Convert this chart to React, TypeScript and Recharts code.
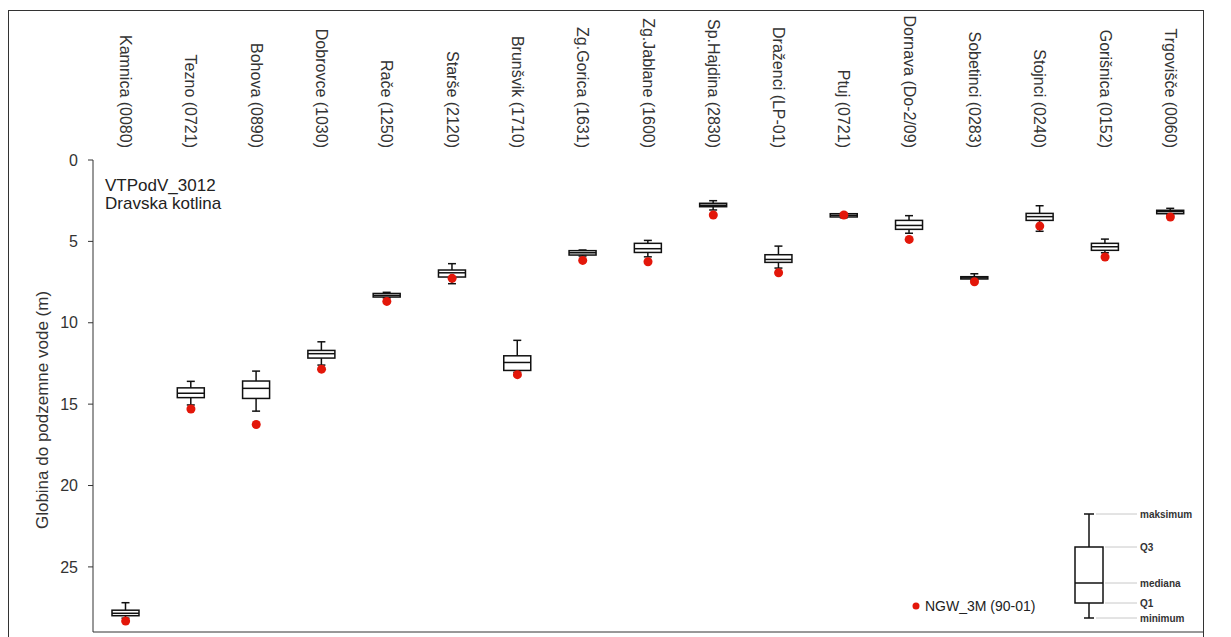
import React from 'react';
import { ComposedChart, Bar, Scatter, XAxis, YAxis, ReferenceLine, Legend, Label } from 'recharts';

const stations = [
  'Kamnica (0080)', 'Tezno (0721)', 'Bohova (0890)', 'Dobrovce (1030)', 'Rače (1250)',
  'Starše (2120)', 'Brunšvik (1710)', 'Zg.Gorica (1631)', 'Zg.Jablane (1600)', 'Sp.Hajdina (2830)',
  'Draženci (LP-01)', 'Ptuj (0721)', 'Dornava (Do-2/09)', 'Sobetinci (0283)', 'Stojnci (0240)',
  'Gorišnica (0152)', 'Trgovišče (0060)',
];

// depth values (m); lo = shallowest (drawn on top), hi = deepest
const loVals = [27.2, 13.6, 12.97, 11.17, 8.13, 6.37, 11.08, 5.53, 4.94, 2.5, 5.29, 3.28, 3.42, 6.99, 2.81, 4.86, 2.97];
const q1Vals = [27.66, 14.0, 13.58, 11.7, 8.2, 6.76, 12.03, 5.57, 5.12, 2.66, 5.82, 3.3, 3.71, 7.17, 3.28, 5.12, 3.09];
const medVals = [27.85, 14.33, 14.03, 11.9, 8.32, 6.93, 12.44, 5.7, 5.45, 2.78, 6.11, 3.4, 4.02, 7.24, 3.48, 5.33, 3.17];
const q3Vals = [28.0, 14.6, 14.65, 12.17, 8.42, 7.19, 12.93, 5.84, 5.68, 2.87, 6.29, 3.5, 4.26, 7.31, 3.71, 5.55, 3.3];
const hiVals = [28.15, 15.05, 15.43, 12.6, 8.47, 7.6, 13.05, 5.9, 5.95, 3.07, 6.64, 3.55, 4.5, 7.38, 4.38, 5.7, 3.38];
const ngwVals = [28.33, 15.3, 16.25, 12.85, 8.69, 7.27, 13.19, 6.17, 6.25, 3.38, 6.93, 3.38, 4.88, 7.48, 4.06, 5.96, 3.5];

const yTicks = [0, 5, 10, 15, 20, 25];
const boundaryTicks = stations.map((_, i) => i).concat(stations.length);

const RED = '#e3170a';
const FONT = '"Liberation Sans", Arial, sans-serif';

const data = stations.map((name, i) => ({
  name,
  range: [loVals[i], hiVals[i]],
  lo: loVals[i],
  q1: q1Vals[i],
  med: medVals[i],
  q3: q3Vals[i],
  hi: hiVals[i],
  ngw: ngwVals[i],
}));

const BoxShape = (props: any) => {
  const { x, y, width, height, payload } = props;
  const top = Math.min(y, y + height);
  const bottom = Math.max(y, y + height);
  const span = payload.hi - payload.lo;
  // linear axis: interpolate inside the whisker bar
  const py = (v: number) => (span ? top + ((v - payload.lo) / span) * (bottom - top) : top);
  const cx = x + width / 2;
  const cap = 4;
  return (
    <g stroke="#111" strokeWidth={1.5}>
      <line x1={cx} x2={cx} y1={top} y2={bottom} />
      <line x1={cx - cap} x2={cx + cap} y1={top} y2={top} />
      <line x1={cx - cap} x2={cx + cap} y1={bottom} y2={bottom} />
      <rect x={x} y={py(payload.q1)} width={width} height={py(payload.q3) - py(payload.q1)} fill="#fff" />
      <line x1={x} x2={x + width} y1={py(payload.med)} y2={py(payload.med)} />
    </g>
  );
};

const Dot = (props: any) => <circle cx={props.cx} cy={props.cy} r={4.5} fill={RED} />;

const CatTick = ({ x, y, payload }: any) => (
  <text
    x={x}
    y={y}
    transform={`rotate(90, ${x}, ${y})`}
    textAnchor="end"
    dominantBaseline="central"
    fontSize={16}
    fill="#333"
    fontFamily={FONT}
  >
    {payload.value}
  </text>
);

const NoTick = () => <g />;

const YTitle = ({ viewBox }: any) => {
  const x = viewBox.x + 33;
  const y = viewBox.y + viewBox.height / 2 + 14;
  return (
    <text x={x} y={y} transform={`rotate(-90, ${x}, ${y})`} textAnchor="middle" dominantBaseline="central" fontSize={17} fill="#333" fontFamily={FONT}>
      Globina do podzemne vode (m)
    </text>
  );
};

const legendRows = [
  { label: 'maksimum', y: 13, from: 217 },
  { label: 'Q3', y: 46, from: 226 },
  { label: 'mediana', y: 82, from: 226 },
  { label: 'Q1', y: 102, from: 226 },
  { label: 'minimum', y: 117, from: 217 },
];

const LegendBox = () => (
  <svg width={322} height={130} style={{ fontFamily: FONT }}>
    <circle cx={37} cy={105} r={3.5} fill={RED} />
    <text x={46} y={110} fontSize={14} fill="#222">NGW_3M (90-01)</text>
    {legendRows.map((r) => (
      <line key={r.label} x1={r.from} x2={258} y1={r.y} y2={r.y} stroke="#c8c8c8" />
    ))}
    <g stroke="#111" strokeWidth={1.5}>
      <line x1={210} x2={210} y1={13} y2={117} />
      <line x1={205} x2={215} y1={13} y2={13} />
      <line x1={205} x2={215} y1={117} y2={117} />
      <rect x={196} y={46} width={28} height={56} fill="#fff" />
      <line x1={196} x2={224} y1={82} y2={82} />
    </g>
    {legendRows.map((r) => (
      <text key={r.label} x={261} y={r.y} dominantBaseline="central" fontSize={10} fontWeight="bold" fill="#333">
        {r.label}
      </text>
    ))}
  </svg>
);

export default function App() {
  return (
    <div
      style={{
        position: 'fixed',
        left: 8,
        top: 10,
        width: 1194,
        height: 640,
        border: '1px solid #333',
        background: '#fff',
        fontFamily: FONT,
      }}
    >
      <ComposedChart width={1194} height={622} data={data} margin={{ top: 10, right: 0, bottom: 1, left: 0 }}>
        <XAxis
          xAxisId="grid"
          type="number"
          domain={[0, stations.length]}
          ticks={boundaryTicks}
          orientation="top"
          height={0}
          tick={NoTick}
          tickSize={6}
          stroke="#333"
          allowDataOverflow
        />
        <XAxis
          xAxisId="cat"
          dataKey="name"
          orientation="top"
          height={139}
          interval={0}
          tickLine={false}
          axisLine={false}
          tickSize={0}
          tickMargin={12}
          tick={CatTick}
        />
        <YAxis
          reversed
          domain={[0, 29]}
          ticks={yTicks}
          width={84}
          tickSize={5}
          tickMargin={10}
          stroke="#333"
          tick={{ fontSize: 16, fill: '#333', fontFamily: FONT }}
          allowDataOverflow
        >
          <Label content={YTitle} />
        </YAxis>
        <ReferenceLine xAxisId="cat" y={29} stroke="#333" />
        <Bar xAxisId="cat" dataKey="range" barSize={27} shape={BoxShape} isAnimationActive={false} />
        <Scatter xAxisId="cat" dataKey="ngw" shape={Dot} isAnimationActive={false} />
        <Legend
          layout="horizontal"
          verticalAlign="middle"
          align="center"
          content={LegendBox}
          wrapperStyle={{ left: 870, top: 490, width: 322, height: 130 }}
        />
      </ComposedChart>
      <div
        style={{
          position: 'absolute',
          left: 96,
          top: 166,
          fontSize: 17,
          lineHeight: '18px',
          color: '#222',
          pointerEvents: 'none',
        }}
      >
        VTPodV_3012
        <br />
        Dravska kotlina
      </div>
    </div>
  );
}
